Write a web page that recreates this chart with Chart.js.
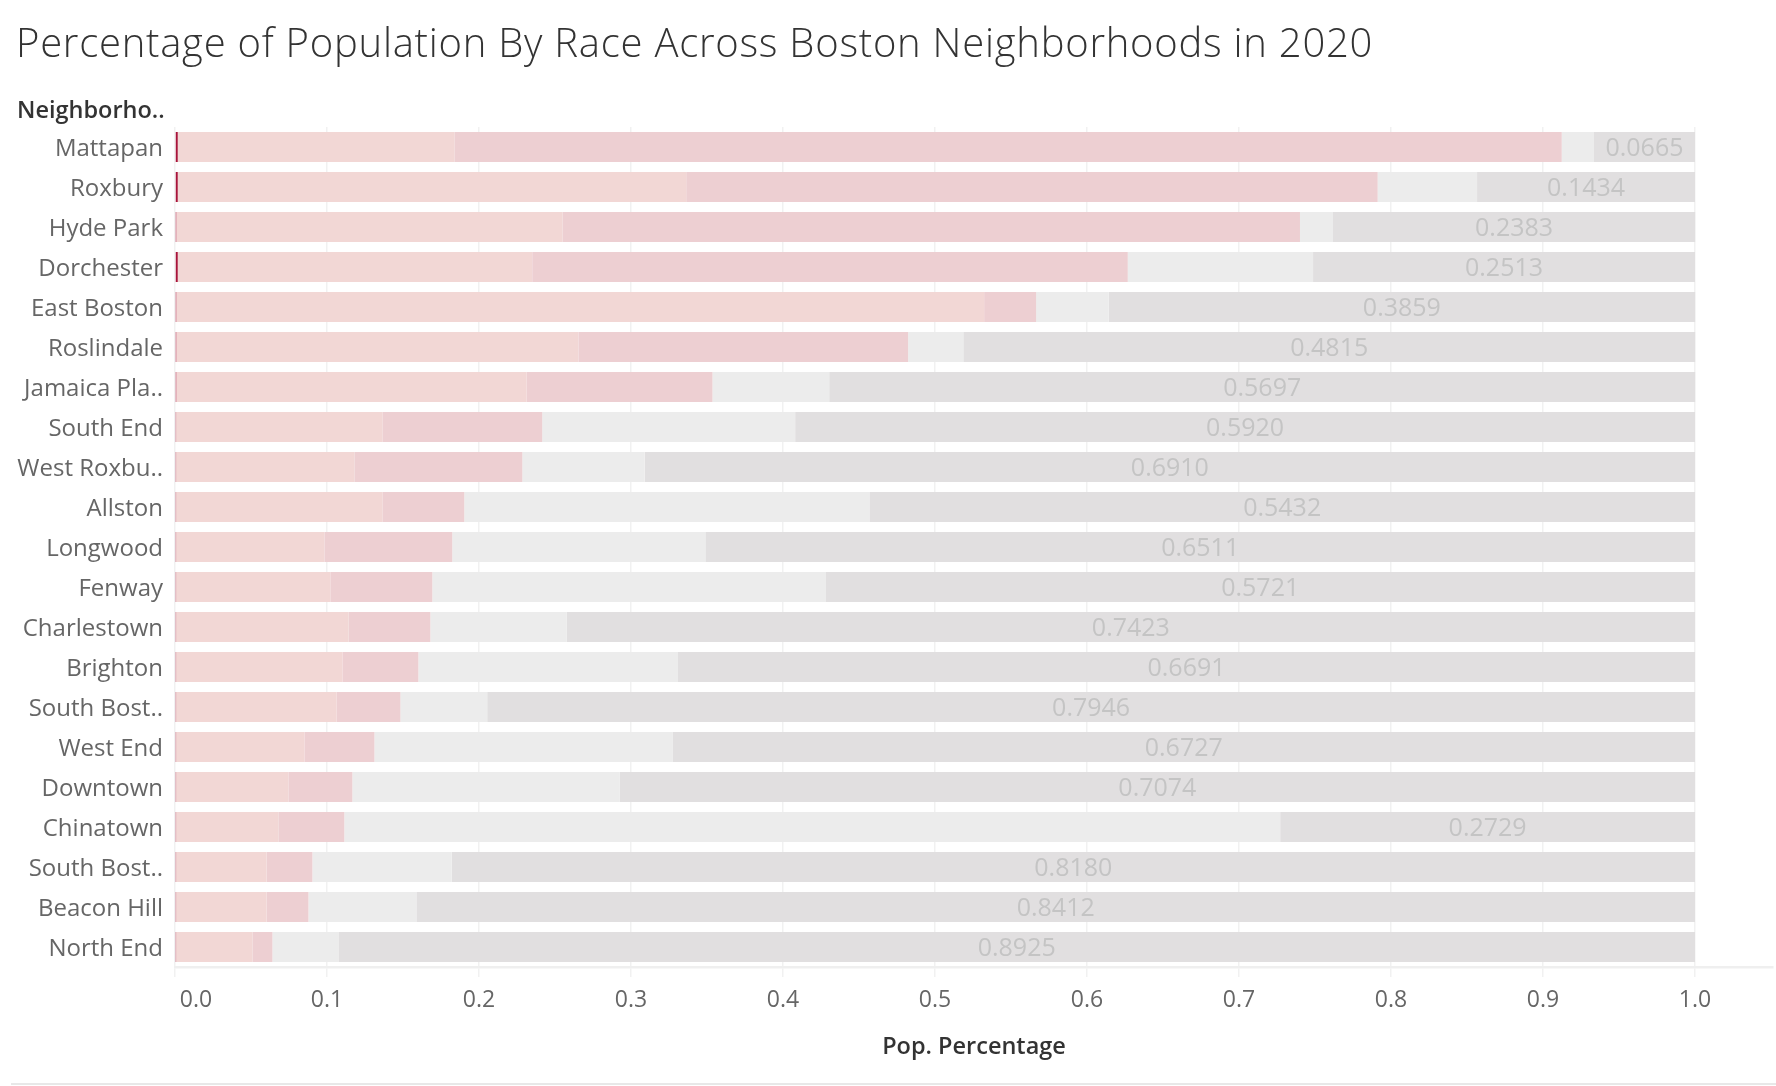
<!DOCTYPE html>
<html>
<head>
<meta charset="utf-8">
<script src="https://cdn.jsdelivr.net/npm/chart.js@4.4.1/dist/chart.umd.min.js"></script>
<style>
  html, body { margin: 0; padding: 0; background: #ffffff; }
  #wrap { position: relative; width: 1776px; height: 1086px; overflow: hidden; }
  #chartBox { position: absolute; left: 0; top: 0; width: 1776px; height: 1086px; }
  #title { position: absolute; left: 16px; top: 22px; margin: 0; font-family: "Open Sans", sans-serif; font-weight: 300; font-size: 40px; line-height: 40px; letter-spacing: 0.75px; color: #333333; white-space: nowrap; }
  #ylab { position: absolute; left: 17px; top: 97px; font-family: "Open Sans", sans-serif; font-weight: 600; font-size: 23.5px; line-height: 24px; color: #333333; white-space: nowrap; }
  #bottomLine { position: absolute; left: 11px; right: 0; top: 1083px; height: 2px; background: #e8e8e8; }
</style>
</head>
<body>
<div id="wrap">
  <div id="chartBox"><canvas id="c"></canvas></div>
  <h1 id="title">Percentage of Population By Race Across Boston Neighborhoods in 2020</h1>
  <div id="ylab">Neighborho..</div>
  <div id="bottomLine"></div>
</div>
<script>
// ---- Data ----
const categories = ["Mattapan","Roxbury","Hyde Park","Dorchester","East Boston","Roslindale","Jamaica Plain","South End","West Roxbury","Allston","Longwood","Fenway","Charlestown","Brighton","South Boston","West End","Downtown","Chinatown","South Boston Waterfront","Beacon Hill","North End"];
const tickLabels = ["Mattapan","Roxbury","Hyde Park","Dorchester","East Boston","Roslindale","Jamaica Pla..","South End","West Roxbu..","Allston","Longwood","Fenway","Charlestown","Brighton","South Bost..","West End","Downtown","Chinatown","South Bost..","Beacon Hill","North End"];

const otherShare    = [0.0018,0.0018,0.0008,0.0018,0.0008,0.0008,0.0008,0.0007,0.0007,0.0007,0.0007,0.0007,0.0007,0.0007,0.0007,0.0007,0.0007,0.0007,0.0007,0.0007,0.0007];
const hispanicShare = [0.1820,0.3345,0.2541,0.2332,0.5315,0.2646,0.2304,0.1357,0.1173,0.1357,0.0976,0.1015,0.1134,0.1094,0.1055,0.0844,0.0739,0.0673,0.0595,0.0595,0.0503];
const blackShare    = [0.7285,0.4549,0.4852,0.3918,0.0342,0.2169,0.1224,0.1052,0.1105,0.0539,0.0841,0.0671,0.0539,0.0500,0.0421,0.0461,0.0421,0.0434,0.0302,0.0276,0.0131];
const asianShare    = [0.0212,0.0654,0.0217,0.1219,0.0477,0.0363,0.0768,0.1664,0.0805,0.2665,0.1665,0.2586,0.0897,0.1708,0.0571,0.1961,0.1759,0.6157,0.0916,0.0710,0.0434];
const whiteShare    = [0.0665,0.1434,0.2383,0.2513,0.3859,0.4815,0.5697,0.5920,0.6910,0.5432,0.6511,0.5721,0.7423,0.6691,0.7946,0.6727,0.7074,0.2729,0.8180,0.8412,0.8925];
const xTickValues   = [0.0,0.1,0.2,0.3,0.4,0.5,0.6,0.7,0.8,0.9,1.0];

// ---- Styles ----
const FONT = '"Open Sans", sans-serif';
const colOther = '#a8143a', colHisp = '#f2d7d5', colBlack = '#edcfd2', colAsian = '#ececec', colWhite = '#e1dfe0';

const valueLabels = {
  id: 'valueLabels',
  afterDatasetsDraw(chart) {
    const ctx = chart.ctx;
    const meta = chart.getDatasetMeta(4);
    ctx.save();
    ctx.font = '25px ' + FONT;
    ctx.fillStyle = '#c4c4c4';
    ctx.textAlign = 'center';
    ctx.textBaseline = 'middle';
    meta.data.forEach((el, i) => {
      const cx = (el.x + el.base) / 2;
      ctx.fillText(whiteShare[i].toFixed(4), cx, el.y + 2);
    });
    ctx.restore();
  }
};

const mk = (label, data, color) => ({ label, data, backgroundColor: color, borderWidth: 0, categoryPercentage: 1.0, barPercentage: 0.75 });

new Chart(document.getElementById('c'), {
  type: 'bar',
  data: {
    labels: categories,
    datasets: [
      mk('Other', otherShare, colOther),
      mk('Hispanic', hispanicShare, colHisp),
      mk('Black', blackShare, colBlack),
      mk('Asian', asianShare, colAsian),
      mk('White', whiteShare, colWhite)
    ]
  },
  options: {
    indexAxis: 'y',
    responsive: true,
    maintainAspectRatio: false,
    animation: false,
    layout: { padding: { top: 127, left: 0, right: 3, bottom: 19 } },
    plugins: { legend: { display: false }, tooltip: { enabled: false }, title: { display: false } },
    scales: {
      x: {
        type: 'linear',
        stacked: true,
        min: 0,
        max: 1.0513,
        afterFit(scale) { scale.height = 100; },
        afterBuildTicks(scale) { scale.ticks = xTickValues.map(v => ({ value: v })); },
        grid: { color: '#f1f1f1', lineWidth: 1.5, drawTicks: true, tickLength: 10, tickColor: '#f1f1f1' },
        border: { display: true, color: '#efefef', width: 2.5 },
        ticks: {
          font: { family: FONT, size: 23 },
          color: '#666666',
          padding: 10,
          maxRotation: 0,
          autoSkip: false,
          callback: (v) => (v === 0 ? '       0.0' : Number(v).toFixed(1))
        },
        title: { display: true, text: 'Pop. Percentage', font: { family: FONT, size: 23.5, weight: '600' }, color: '#333333', padding: { top: 0, bottom: 6 } }
      },
      y: {
        type: 'category',
        stacked: true,
        afterFit(scale) { scale.width = 175; },
        grid: { display: false, drawTicks: false },
        border: { display: false },
        ticks: {
          font: { family: FONT, size: 24 },
          color: '#666666',
          padding: 12,
          labelOffset: 2,
          autoSkip: false,
          callback: (v, i) => tickLabels[i]
        }
      }
    }
  },
  plugins: [valueLabels]
});
</script>
</body>
</html>
